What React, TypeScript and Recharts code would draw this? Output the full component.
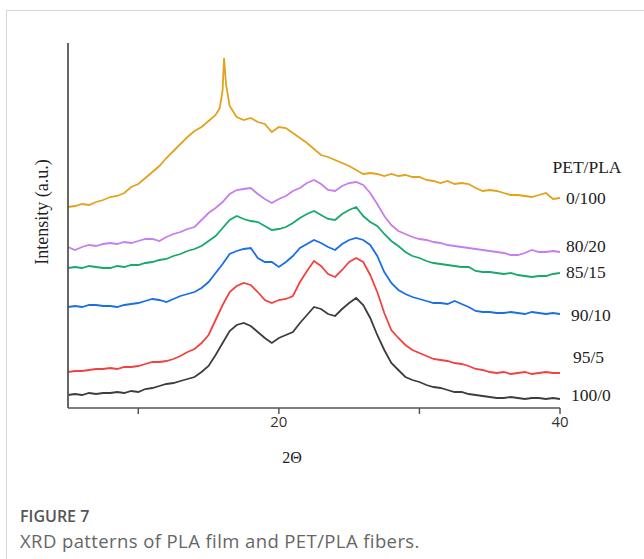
import { LineChart, Line, XAxis, YAxis } from 'recharts'

// 2θ positions shared by most curves (degrees)
const theta = [
  5, 5.5, 6, 6.5, 7, 7.5, 8, 8.5, 9, 9.5,
  10, 10.5, 11, 11.5, 12, 12.5, 13, 13.5, 14, 14.5,
  15, 15.5, 16, 16.5, 17, 17.5, 18, 18.5, 19, 19.5,
  20, 20.5, 21, 21.5, 22, 22.5, 23, 23.5, 24, 24.5,
  25, 25.5, 26, 26.5, 27, 27.5, 28, 28.5, 29, 29.5,
  30, 30.5, 31, 31.5, 32, 32.5, 33, 33.5, 34, 34.5,
  35, 35.5, 36, 36.5, 37, 37.5, 38, 38.5, 39, 39.5, 40,
]

// PLA film has a sharp peak, so it is read more finely around 16°
const thetaPla = [
  5, 5.5, 6, 6.5, 7, 7.5, 8, 8.5, 9, 9.5,
  10, 10.5, 11, 11.5, 12, 12.5, 13, 13.5, 14, 14.5,
  15, 15.5, 15.8, 16, 16.1, 16.25, 16.5, 17, 17.5, 18, 18.5, 19, 19.5,
  20, 20.5, 21, 21.5, 22, 22.5, 23, 23.5, 24, 24.5,
  25, 25.5, 26, 26.5, 27, 27.5, 28, 28.5, 29, 29.5,
  30, 30.5, 31, 31.5, 32, 32.5, 33, 33.5, 34, 34.5,
  35, 35.5, 36, 36.5, 37, 37.5, 38, 38.5, 39, 39.5, 40,
]

// intensities (a.u., curves already stacked with their offsets)
const pla0_100 = [
  201, 202, 204, 203, 206, 208, 211, 212, 215, 221,
  224, 230, 236, 242, 250, 257, 264, 271, 277, 281,
  287, 293, 300, 318, 350, 323, 302, 291, 288, 290, 286, 284, 276,
  281, 280, 275, 270, 265, 259, 253, 251, 248, 245,
  242, 238, 234, 235, 234, 232, 234, 232, 233, 231,
  231, 228, 227, 225, 227, 224, 225, 224, 220, 217,
  218, 217, 215, 213, 213, 212, 211, 213, 215, 209, 210,
]
const pet80_20 = [
  161, 158, 161, 163, 162, 164, 165, 164, 166, 165,
  167, 169, 169, 167, 171, 174, 176, 179, 181, 188,
  195, 200, 206, 214, 218, 219, 220, 214, 209, 205,
  209, 212, 217, 220, 225, 228, 224, 218, 217, 222,
  225, 226, 223, 215, 204, 192, 183, 177, 174, 171,
  169, 168, 166, 165, 163, 162, 161, 160, 159, 158,
  157, 156, 155, 153, 153, 155, 158, 156, 156, 157, 156,
]
const pet85_15 = [
  140, 141, 140, 142, 141, 140, 140, 142, 141, 143,
  143, 145, 146, 148, 149, 152, 154, 157, 159, 162,
  167, 172, 180, 188, 192, 189, 187, 186, 182, 178,
  179, 181, 185, 190, 194, 197, 193, 189, 188, 194,
  198, 201, 192, 186, 182, 174, 167, 162, 156, 152,
  150, 147, 145, 144, 143, 142, 141, 141, 137, 136,
  136, 135, 134, 135, 133, 132, 131, 132, 132, 134, 135,
]
const pet90_10 = [
  101, 102, 101, 103, 103, 102, 102, 101, 103, 104,
  105, 107, 109, 108, 106, 109, 112, 114, 116, 120,
  126, 135, 144, 154, 157, 159, 160, 150, 146, 146,
  141, 146, 152, 160, 164, 168, 165, 161, 158, 164,
  168, 170, 168, 163, 152, 136, 125, 118, 114, 111,
  109, 107, 105, 105, 104, 107, 104, 101, 97, 96,
  96, 95, 95, 96, 95, 94, 96, 95, 94, 95, 94,
]
const pet95_5 = [
  36, 37, 37, 38, 39, 39, 40, 39, 41, 41,
  42, 44, 46, 46, 47, 49, 52, 56, 59, 65,
  73, 88, 103, 116, 122, 125, 123, 116, 108, 105,
  108, 109, 112, 126, 137, 147, 142, 134, 131, 138,
  146, 150, 146, 133, 116, 95, 78, 70, 63, 58,
  55, 52, 49, 48, 47, 45, 44, 42, 39, 38,
  36, 35, 36, 34, 35, 36, 34, 35, 36, 35, 35,
]
const pet100_0 = [
  13, 14, 13, 15, 14, 15, 15, 16, 15, 17,
  16, 19, 20, 22, 24, 25, 27, 29, 31, 36,
  42, 53, 65, 77, 83, 85, 82, 76, 70, 65,
  70, 73, 76, 85, 93, 101, 99, 94, 92, 99,
  105, 110, 103, 90, 73, 58, 45, 38, 31, 28,
  26, 23, 21, 20, 18, 16, 16, 14, 13, 12,
  11, 10, 10, 11, 10, 9, 10, 10, 9, 10, 9,
]

const xTicks = [10, 20, 30, 40]

const toRows = (xs: number[], ys: number[]) => xs.map((t, i) => ({ t, v: ys[i] }))

const series = [
  { name: '0/100', rows: toRows(thetaPla, pla0_100), color: '#e4a21c', labelX: 566, labelY: 198 },
  { name: '80/20', rows: toRows(theta, pet80_20), color: '#c77deb', labelX: 566, labelY: 246 },
  { name: '85/15', rows: toRows(theta, pet85_15), color: '#16a96b', labelX: 566, labelY: 272 },
  { name: '90/10', rows: toRows(theta, pet90_10), color: '#1a6fe6', labelX: 571, labelY: 315 },
  { name: '95/5', rows: toRows(theta, pet95_5), color: '#f2423f', labelX: 573, labelY: 357 },
  { name: '100/0', rows: toRows(theta, pet100_0), color: '#3d3d3d', labelX: 571, labelY: 395 },
]

const serif = '"Liberation Serif", "DejaVu Serif", serif'
const sans = '"Open Sans", "Noto Sans", sans-serif'

export default function App() {
  return (
    <div style={{ position: 'absolute', left: 0, top: 0, width: 644, height: 559, background: '#fff', overflow: 'hidden' }}>
      {/* card frame */}
      <div
        style={{
          position: 'absolute',
          left: 6,
          top: 10,
          width: 650,
          height: 560,
          borderTop: '1px solid #d6d6d6',
          borderLeft: '1px solid #d6d6d6',
        }}
      />
      <div style={{ position: 'absolute', left: 0, top: 0 }}>
        <LineChart width={644} height={480} margin={{ top: 43, right: 84, bottom: 42, left: 58 }}>
          <XAxis
            type="number"
            dataKey="t"
            domain={[5, 40]}
            ticks={xTicks}
            allowDataOverflow
            height={30}
            tickFormatter={(v) => (v === 20 || v === 40 ? String(v) : '')}
            tick={{ fontSize: 15, fontFamily: sans, fill: '#333' }}
            axisLine={{ stroke: '#555', strokeWidth: 1.5 }}
            tickLine={{ stroke: '#555', strokeWidth: 1.5 }}
            tickSize={6}
          />
          <YAxis
            type="number"
            domain={[0, 365]}
            width={10}
            tick={false}
            tickLine={false}
            axisLine={{ stroke: '#555', strokeWidth: 1.8 }}
          />
          {series.map((s) => (
            <Line
              key={s.name}
              data={s.rows}
              dataKey="v"
              type="linear"
              stroke={s.color}
              strokeWidth={1.8}
              dot={false}
              activeDot={false}
              isAnimationActive={false}
            />
          ))}
        </LineChart>
      </div>

      {/* axis titles */}
      <div
        style={{
          position: 'absolute',
          left: 42,
          top: 212,
          transform: 'translate(-50%, -50%) rotate(-90deg)',
          whiteSpace: 'nowrap',
          fontFamily: serif,
          fontSize: 18,
          color: '#222',
        }}
      >
        Intensity (a.u.)
      </div>
      <div
        style={{
          position: 'absolute',
          left: 292,
          top: 458,
          transform: 'translate(-50%, -50%)',
          fontFamily: serif,
          fontSize: 16,
          color: '#222',
        }}
      >
        2Θ
      </div>

      {/* legend labels */}
      <div
        style={{
          position: 'absolute',
          left: 587,
          top: 167,
          transform: 'translate(-50%, -50%)',
          fontFamily: serif,
          fontSize: 17.5,
          color: '#222',
          whiteSpace: 'nowrap',
        }}
      >
        PET/PLA
      </div>
      {series.map((s) => (
        <div
          key={s.name}
          style={{
            position: 'absolute',
            left: s.labelX,
            top: s.labelY,
            transform: 'translateY(-50%)',
            fontFamily: serif,
            fontSize: 17.5,
            color: '#222',
            whiteSpace: 'nowrap',
          }}
        >
          {s.name}
        </div>
      ))}

      {/* caption */}
      <div style={{ position: 'absolute', left: 20, top: 505, fontFamily: sans, fontSize: 16, fontWeight: 600, color: '#555' }}>
        FIGURE 7
      </div>
      <div style={{ position: 'absolute', left: 20, top: 528, fontFamily: sans, fontSize: 18.5, letterSpacing: 0.4, color: '#666', whiteSpace: 'nowrap' }}>
        XRD patterns of PLA film and PET/PLA fibers.
      </div>
    </div>
  )
}
